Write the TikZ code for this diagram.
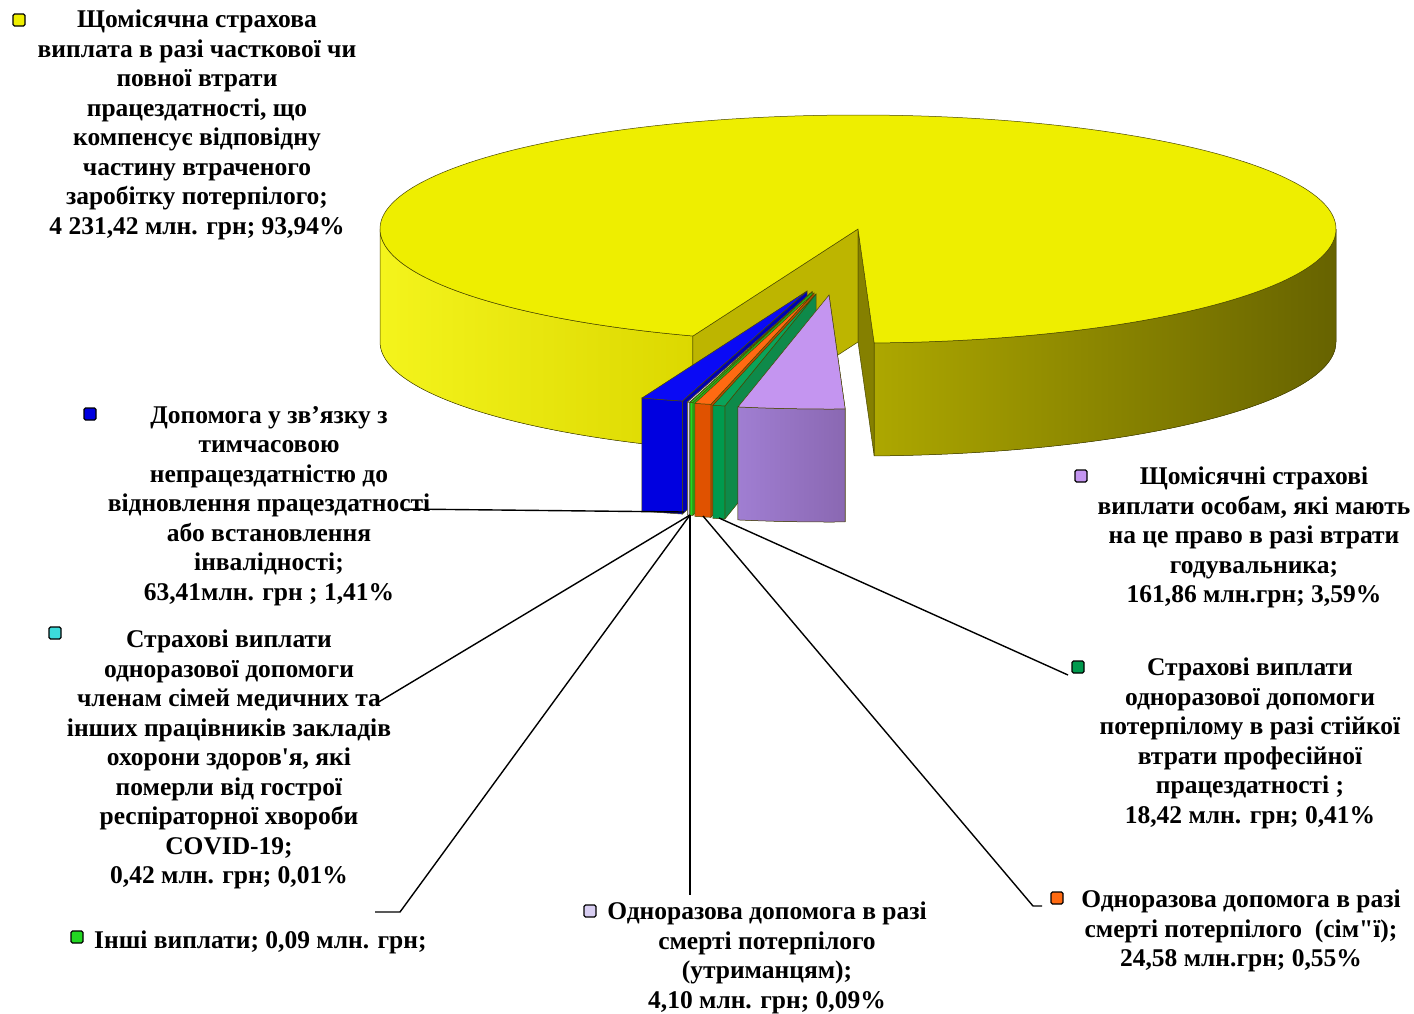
\documentclass[tikz,border=0pt]{standalone}
\usepackage{fontspec}
\setmainfont{Liberation Serif}[Ligatures=TeXOff]
\usepackage{tikz}
\usetikzlibrary{calc}

\definecolor{pieTop}{HTML}{EEEE00}
\definecolor{pieWallA}{HTML}{F4F41C}
\definecolor{pieWallB}{HTML}{DCD800}
\definecolor{pieCutL}{HTML}{BDB500}
\definecolor{pieCutR}{HTML}{858000}
\definecolor{pieDarkA}{HTML}{ADA700}
\definecolor{pieDarkB}{HTML}{6C6800}
\definecolor{blueTop}{HTML}{0A0AF5}
\definecolor{blueFront}{HTML}{0000E0}
\definecolor{orangeTop}{HTML}{FF6A12}
\definecolor{orangeFront}{HTML}{E05200}
\definecolor{greenTop}{HTML}{0AA35A}
\definecolor{greenFront}{HTML}{009A4E}
\definecolor{greenSide}{HTML}{0E8A4A}
\definecolor{lilacTop}{HTML}{C495F0}
\definecolor{lilacFrontA}{HTML}{A07ED2}
\definecolor{lilacFrontB}{HTML}{8A68B2}
\definecolor{paleTop}{HTML}{D8CEF2}
\definecolor{cyanTop}{HTML}{3CDCDC}
\definecolor{limeTop}{HTML}{22D822}
\definecolor{rimLine}{HTML}{4A4700}

\tikzset{
  lbl/.style={font=\fontsize{25.5}{29.5}\selectfont\bfseries, align=center, inner sep=0pt, text=black},
  mk/.style={draw=black, line width=1.1pt, minimum size=12pt, inner sep=0pt, rounded corners=1.5pt},
  leader/.style={draw=black, line width=1.4pt},
  rim/.style={draw=rimLine, line width=0.5pt}
}

% one exploded slice: start, end, dx, dy, top fill, front options, side fill
\newcommand{\pieslice}[7]{%
  \begin{scope}[shift={(#3,#4)}, x radius=478pt, y radius=114pt]
    \filldraw[rim, fill=#7] (858,-229) -- ({858+478*cos(#2)},{-229+114*sin(#2)}) -- ++(0,-113) -- (858,-342) -- cycle;
    \filldraw[rim, #6] ({858+478*cos(#1)},{-229+114*sin(#1)}) arc[start angle=#1, end angle=#2]
      -- ++(0,-113) arc[start angle=#2, end angle=#1] -- cycle;
    \filldraw[rim, fill=#5] (858,-229) -- ({858+478*cos(#1)},{-229+114*sin(#1)}) arc[start angle=#1, end angle=#2] -- cycle;
  \end{scope}}

\begin{document}
\begin{tikzpicture}[x=1pt, y=1pt]
  \useasboundingbox (0,0) rectangle (1414,-1013);
  \fill[white] (0,0) rectangle (1414,-1013);

  % big yellow slice: walls, cut faces, top
  \begin{scope}[x radius=478pt, y radius=114pt]
    \filldraw[rim, left color=pieWallA, right color=pieWallB] (380,-229) arc[start angle=180, end angle=249.8]
      -- ++(0,-113) arc[start angle=249.8, end angle=180] -- cycle;
    \filldraw[rim, left color=pieDarkA, middle color=pieDarkB, right color=pieDarkB!95!black]
      ({858+478*cos(271.94)},{-229+114*sin(271.94)}) arc[start angle=271.94, end angle=360]
      -- ++(0,-113) arc[start angle=360, end angle=271.94] -- cycle;
    \filldraw[rim, fill=pieCutL] (858,-229) -- ({858+478*cos(249.8)},{-229+114*sin(249.8)}) -- ++(0,-113) -- (858,-342) -- cycle;
    \filldraw[rim, fill=pieCutR] (858,-229) -- ({858+478*cos(271.94)},{-229+114*sin(271.94)}) -- ++(0,-113) -- (858,-342) -- cycle;
    \filldraw[rim, fill=pieTop] (858,-229) -- ({858+478*cos(271.94)},{-229+114*sin(271.94)})
      arc[start angle=271.94, end angle=609.8] -- cycle;
  \end{scope}

  % small slices, pulled out to the front
  \pieslice{249.8}{254.88}{-51}{-62}{blueTop}{fill=blueFront}{blueFront!80!black}
  \pieslice{254.88}{255.2}{-46}{-63}{paleTop}{fill=paleTop}{paleTop!85!black}
  \pieslice{255.2}{255.24}{-46}{-63}{cyanTop}{fill=cyanTop}{cyanTop!85!black}
  \pieslice{255.24}{255.56}{-46}{-63}{limeTop}{fill=limeTop}{limeTop!85!black}
  \pieslice{255.56}{257.54}{-44}{-64}{orangeTop}{fill=orangeFront}{orangeFront!85!black}
  \pieslice{257.54}{259.02}{-42}{-65}{greenTop}{fill=greenFront}{greenSide}
  \pieslice{259.02}{271.94}{-29}{-66}{lilacTop}{left color=lilacFrontA, right color=lilacFrontB}{lilacFrontB}

  % legend markers
  \node[mk, fill=pieTop] (mkYellow) at (19,-20) {};
  \node[mk, fill=blueFront] (mkBlue) at (90,-414) {};
  \node[mk, fill=lilacTop] (mkLilac) at (1081,-476) {};
  \node[mk, fill=cyanTop] (mkCyan) at (55,-633) {};
  \node[mk, fill=greenFront] (mkGreen) at (1078,-667) {};
  \node[mk, fill=limeTop] (mkLime) at (77,-937) {};
  \node[mk, fill=paleTop] (mkPale) at (590,-911) {};
  \node[mk, fill=orangeTop] (mkOrange) at (1057,-898) {};

  % labels
  \node[lbl, anchor=north] (lblYellow) at (197,-10) {Щомісячна страхова\\виплата в разі часткової чи\\повної втрати\\працездатності, що\\компенсує відповідну\\частину втраченого\\заробітку потерпілого;\\4 231,42 млн. грн; 93,94\%};
  \node[lbl, anchor=north] (lblBlue) at (269,-406) {Допомога у зв’язку з\\тимчасовою\\непрацездатністю до\\відновлення працездатності\\або встановлення\\інвалідності;\\63,41млн. грн ; 1,41\%};
  \node[lbl, anchor=north] (lblLilac) at (1254,-467) {Щомісячні страхові\\виплати особам, які мають\\на це право в разі втрати\\годувальника;\\161,86 млн.грн; 3,59\%};
  \node[lbl, anchor=north] (lblCyan) at (229,-630) {Страхові виплати\\одноразової допомоги\\членам сімей медичних та\\інших працівників закладів\\охорони здоров'я, які\\померли від гострої\\респіраторної хвороби\\COVID-19;\\0,42 млн. грн; 0,01\%};
  \node[lbl, anchor=north] (lblGreen) at (1250,-658) {Страхові виплати\\одноразової допомоги\\потерпілому в разі стійкої\\втрати професійної\\працездатності ;\\18,42 млн. грн; 0,41\%};
  \node[lbl, anchor=base west] (lblLime) at (94,-948) {Інші виплати; 0,09 млн. грн;};
  \node[lbl, anchor=north] (lblPale) at (767,-902) {Одноразова допомога в разі\\смерті потерпілого\\(утриманцям);\\4,10 млн. грн; 0,09\%};
  \node[lbl, anchor=north] (lblOrange) at (1241,-890) {Одноразова допомога в разі\\смерті потерпілого\ \ (сім"ї);\\24,58 млн.грн; 0,55\%};

  % leader lines
  \coordinate (footBlue) at (684,-512);
  \coordinate (footPale) at (690,-515);
  \coordinate (footOrange) at (703,-516);
  \coordinate (footGreen) at (719,-518);
  \coordinate (tipBlue) at (405,-509);
  \coordinate (tipCyan) at (377,-703);
  \coordinate (tipLime) at (400,-912);
  \coordinate (endLime) at (375,-912);
  \coordinate (tipPale) at (690,-895);
  \coordinate (tipOrange) at (1033,-906);
  \coordinate (endOrange) at (1042,-906);
  \coordinate (tipGreen) at (1068,-675);
  \draw[leader] (footBlue) -- (tipBlue);
  \draw[leader] (footPale) -- (tipCyan);
  \draw[leader] (footPale) -- (tipLime) -- (endLime);
  \draw[leader] (footPale) -- (tipPale);
  \draw[leader] (footOrange) -- (tipOrange) -- (endOrange);
  \draw[leader] (footGreen) -- (tipGreen);
\end{tikzpicture}
\end{document}
